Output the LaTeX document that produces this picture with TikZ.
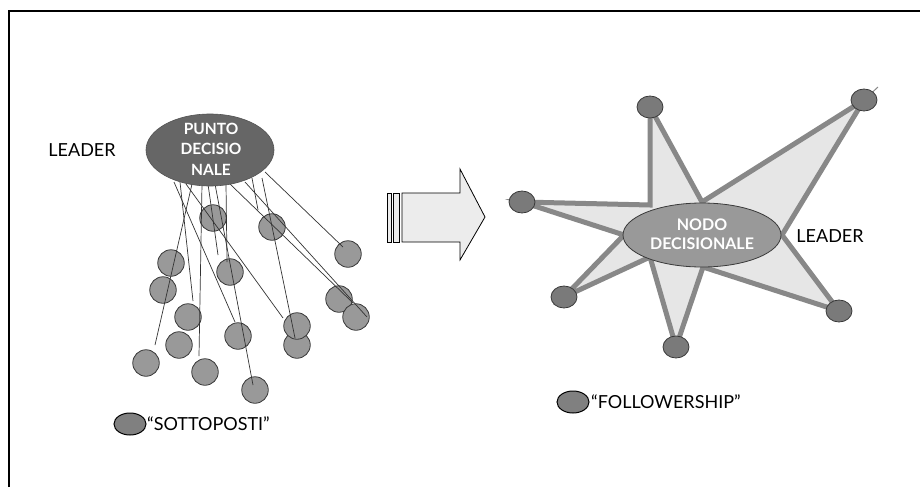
\documentclass[tikz,border=0pt]{standalone}
\usepackage{fontspec}
\setmainfont{Lato}
\usetikzlibrary{shapes.geometric}
\definecolor{darkfill}{HTML}{666666}
\definecolor{ballfill}{HTML}{999999}
\definecolor{ballline}{HTML}{3A3A3A}
\definecolor{keyfill}{HTML}{808080}
\definecolor{starline}{HTML}{888888}
\definecolor{starfill}{HTML}{E6E6E6}
\definecolor{tipfill}{HTML}{7A7A7A}
\definecolor{arrowfill}{HTML}{ECECEC}
\tikzset{
  ball/.style={circle, draw=ballline, fill=ballfill, line width=0.8pt, minimum size=26.5pt, inner sep=0pt},
  tip/.style={ellipse, draw=ballline, fill=tipfill, line width=0.8pt, minimum width=26pt, minimum height=22pt, inner sep=0pt},
  keyball/.style={ellipse, draw=black, fill=keyfill, line width=1pt, minimum width=32pt, minimum height=22pt, inner sep=0pt},
  tie/.style={draw=black!80, line width=0.7pt},
  label/.style={font=\fontsize{18}{20}\selectfont, text=black, inner sep=0pt},
  hubtext/.style={font=\fontsize{15.5}{20.5}\selectfont\bfseries, text=white, align=center, inner sep=0pt},
  ray/.style={draw=starline, line width=5pt, line join=miter, fill=starfill},
}
\begin{document}
\begin{tikzpicture}[x=1pt,y=-1pt]
\useasboundingbox (0,0) rectangle (920,487);
\fill[white] (0,0) rectangle (920,487);

% frame
\draw[line width=2pt] (9,487) -- (9,11) -- (920,11);

% ---------- left: centralised decision point ----------
\node[label] (leadL) at (82,150) {LEADER};

\node[ball] (b1)  at (213,218) {};
\node[ball] (b2)  at (272,227) {};
\node[ball] (b3)  at (348,254) {};
\node[ball] (b4)  at (171,263) {};
\node[ball] (b5)  at (163,290) {};
\node[ball] (b6)  at (188,317) {};
\node[ball] (b7)  at (179,345) {};
\node[ball] (b8)  at (146,363) {};
\node[ball] (b9)  at (205,372) {};
\node[ball] (b10) at (230,272) {};
\node[ball] (b11) at (238,336) {};
\node[ball] (b12) at (255,390) {};
\node[ball] (b13) at (297,345) {};
\node[ball] (b14) at (297,326) {};
\node[ball] (b15) at (339,299) {};
\node[ball] (b16) at (356,317) {};

% line start points under the hub and their loose ends
\coordinate (s1)  at (192,184);
\coordinate (s2)  at (180,182);
\coordinate (s3)  at (202,184);
\coordinate (s4)  at (174,182);
\coordinate (s5)  at (208,184);
\coordinate (s6)  at (215,184);
\coordinate (s7)  at (186,184);
\coordinate (s8)  at (226,184);
\coordinate (s9)  at (262,178);
\coordinate (s10) at (230,184);
\coordinate (s11) at (245,182);
\coordinate (s12) at (252,178);
\coordinate (s13) at (265,172);

\coordinate (e1)  at (155,345);
\coordinate (e2)  at (193,301);
\coordinate (e3)  at (199,356);
\coordinate (e4)  at (235,322);
\coordinate (e5)  at (218,255);
\coordinate (e6)  at (253,385);
\coordinate (e7)  at (283,318);
\coordinate (e8)  at (227,262);
\coordinate (e9)  at (295,338);
\coordinate (e10) at (353,303);
\coordinate (e11) at (367,317);
\coordinate (e12) at (258,210);
\coordinate (e13) at (343,247);

\foreach \i in {1,...,13} {\draw[tie] (s\i) -- (e\i);}

\node[ellipse, fill=darkfill, draw=darkfill!80!black, line width=0.6pt,
      minimum width=128pt, minimum height=72pt, inner sep=0pt] (hub) at (210,150) {};
\node[hubtext] (hubtxt) at (211,149) {PUNTO\\DECISIO\\NALE};

\node[keyball] (keyL) at (130,424) {};
\node[label, anchor=west] (keyLtxt) at (147,424) {“SOTTOPOSTI”};

% ---------- middle: transition arrow ----------
\draw[line width=0.8pt, fill=arrowfill] (387,193) rectangle (391,242);
\draw[line width=0.8pt, fill=arrowfill] (393,193) rectangle (399,242);
\draw[line width=0.8pt, fill=arrowfill, line join=miter]
  (402,193) -- (460,193) -- (460,169) -- (485,217) -- (460,260) -- (460,242) -- (402,242) -- cycle;
\coordinate (arrowtip) at (485,217);

% ---------- right: shared decision node ----------
\coordinate (tL)  at (522,202);
\coordinate (tT)  at (650,107);
\coordinate (tTR) at (864,100);
\coordinate (tBR) at (839,311);
\coordinate (tB)  at (676,347);
\coordinate (tBL) at (564,297);

\coordinate (iA) at (650,205);
\coordinate (iB) at (702,202);
\coordinate (iC) at (782,235);
\coordinate (iD) at (703,267);
\coordinate (iE) at (650,257);
\coordinate (iF) at (624,235);

\draw[ray] (tL) -- (iA) -- (tT) -- (iB) -- (tTR) -- (iC) -- (tBR) -- (iD)
  -- (tB) -- (iE) -- (tBL) -- (iF) -- cycle;

\coordinate (spur) at (878,87);
\draw[draw=starline, line width=1pt] (tTR) -- (spur);

\node[tip] (pL)  at (tL)  {};
\node[tip] (pT)  at (tT)  {};
\node[tip] (pTR) at (tTR) {};
\node[tip] (pBR) at (tBR) {};
\node[tip] (pB)  at (tB)  {};
\node[tip] (pBL) at (tBL) {};

\node[ellipse, fill=ballfill, draw=ballline, line width=0.8pt,
      minimum width=158pt, minimum height=64pt, inner sep=0pt] (node) at (702,235) {};
\node[hubtext, font=\fontsize{16}{19.5}\selectfont\bfseries] (nodetxt) at (702,234) {NODO\\DECISIONALE};

\node[label] (leadR) at (830,236) {LEADER};

\node[keyball] (keyR) at (573,402) {};
\node[label, anchor=west] (keyRtxt) at (591,402) {“FOLLOWERSHIP”};
\end{tikzpicture}
\end{document}
